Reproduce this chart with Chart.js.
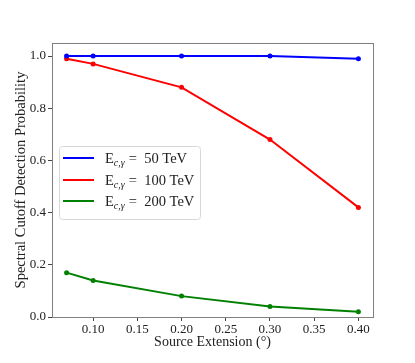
<!DOCTYPE html>
<html>
<head>
<meta charset="utf-8">
<script src="https://cdn.jsdelivr.net/npm/chart.js@4"></script>
<style>
  html, body { margin: 0; padding: 0; background: #fff; }
  #wrap { width: 415px; height: 363px; }
</style>
</head>
<body>
<div id="wrap"><canvas id="chart" width="415" height="363"></canvas></div>
<script>
// Data
const extensions = [0.07, 0.10, 0.20, 0.30, 0.40];
const prob50 = [1.0, 1.0, 1.0, 1.0, 0.99];
const prob100 = [0.99, 0.97, 0.88, 0.68, 0.42];
const prob200 = [0.17, 0.14, 0.08, 0.04, 0.02];
const seriesEnergies = ['50', '100', '200'];
const xTickValues = [0.10, 0.15, 0.20, 0.25, 0.30, 0.35, 0.40];
const yTickValues = [0.0, 0.2, 0.4, 0.6, 0.8, 1.0];

const serif = "'Liberation Serif', 'DejaVu Serif', serif";
const colors = ['#0000ff', '#ff0000', '#008000'];

function toPoints(ys) {
    return extensions.map((x, i) => ({ x: x, y: ys[i] }));
}

function makeDataset(label, ys, color) {
    return {
        label: label,
        data: toPoints(ys),
        borderColor: color,
        backgroundColor: color,
        borderWidth: 2,
        pointRadius: 2.5,
        pointHoverRadius: 3,
        pointBorderWidth: 0,
        tension: 0
    };
}

// Draws the box around the plot area (matplotlib style spines)
const framePlugin = {
    id: 'frame',
    afterDraw(chart) {
        const a = chart.chartArea;
        const ctx = chart.ctx;
        ctx.save();
        ctx.strokeStyle = '#808080';
        ctx.lineWidth = 1;
        ctx.strokeRect(Math.round(a.left) + 0.5, Math.round(a.top) + 0.5,
            Math.round(a.right - a.left), Math.round(a.bottom - a.top));
        ctx.restore();
    }
};

// Legend with subscript E_{c,γ}
const legendPlugin = {
    id: 'subLegend',
    afterDraw(chart) {
        const ctx = chart.ctx;
        const x0 = 59, y0 = 146, w = 141, h = 73;
        ctx.save();
        ctx.fillStyle = 'rgba(255,255,255,0.8)';
        ctx.strokeStyle = '#d8d8d8';
        ctx.lineWidth = 1;
        ctx.beginPath();
        ctx.roundRect(x0 + 0.5, y0 + 0.5, w, h, 3);
        ctx.fill();
        ctx.stroke();
        const rows = [158, 180, 201];
        seriesEnergies.forEach((e, i) => {
            const y = rows[i];
            ctx.strokeStyle = colors[i];
            ctx.lineWidth = 2;
            ctx.beginPath();
            ctx.moveTo(63, y);
            ctx.lineTo(94, y);
            ctx.stroke();
            ctx.fillStyle = '#222';
            ctx.textBaseline = 'alphabetic';
            ctx.font = '14.5px ' + serif;
            let tx = 105;
            ctx.fillText('E', tx, y + 5);
            tx += ctx.measureText('E').width;
            ctx.font = 'italic 10px ' + serif;
            ctx.fillText('c,γ', tx, y + 8);
            tx += ctx.measureText('c,γ').width + 4;
            ctx.font = '14.5px ' + serif;
            ctx.fillText('=  ' + e + ' TeV', tx, y + 5);
        });
        ctx.restore();
    }
};

new Chart(document.getElementById('chart'), {
    type: 'line',
    data: {
        datasets: [
            makeDataset('E_c,γ = 50 TeV', prob50, colors[0]),
            makeDataset('E_c,γ = 100 TeV', prob100, colors[1]),
            makeDataset('E_c,γ = 200 TeV', prob200, colors[2])
        ]
    },
    options: {
        responsive: false,
        animation: false,
        layout: { padding: { left: 12, top: 43, right: 42, bottom: 12 } },
        plugins: {
            legend: { display: false },
            tooltip: { enabled: false }
        },
        scales: {
            x: {
                type: 'linear',
                min: 0.0535,
                max: 0.4165,
                afterBuildTicks: function(scale) {
                    scale.ticks = xTickValues.map(v => ({ value: v }));
                },
                afterFit: function(scale) { scale.height = 34; },
                grid: { drawOnChartArea: false, tickLength: 4, color: '#444' },
                border: { display: false },
                ticks: {
                    color: '#222',
                    padding: 1,
                    font: { family: serif, size: 13 },
                    callback: v => v.toFixed(2)
                },
                title: {
                    display: true,
                    text: 'Source Extension (°)',
                    color: '#222',
                    padding: { top: 0, bottom: 0 },
                    font: { family: serif, size: 14 }
                }
            },
            y: {
                type: 'linear',
                min: 0,
                max: 1.05,
                afterBuildTicks: function(scale) {
                    scale.ticks = yTickValues.map(v => ({ value: v }));
                },
                afterFit: function(scale) { scale.width = 40; },
                grid: { drawOnChartArea: false, tickLength: 4, color: '#444' },
                border: { display: false },
                ticks: {
                    color: '#222',
                    padding: 2,
                    font: { family: serif, size: 13 },
                    callback: v => v.toFixed(1)
                },
                title: {
                    display: true,
                    text: 'Spectral Cutoff Detection Probability',
                    color: '#222',
                    padding: { top: 0, bottom: 0 },
                    font: { family: serif, size: 14.5 }
                }
            }
        }
    },
    plugins: [framePlugin, legendPlugin]
});
</script>
</body>
</html>
